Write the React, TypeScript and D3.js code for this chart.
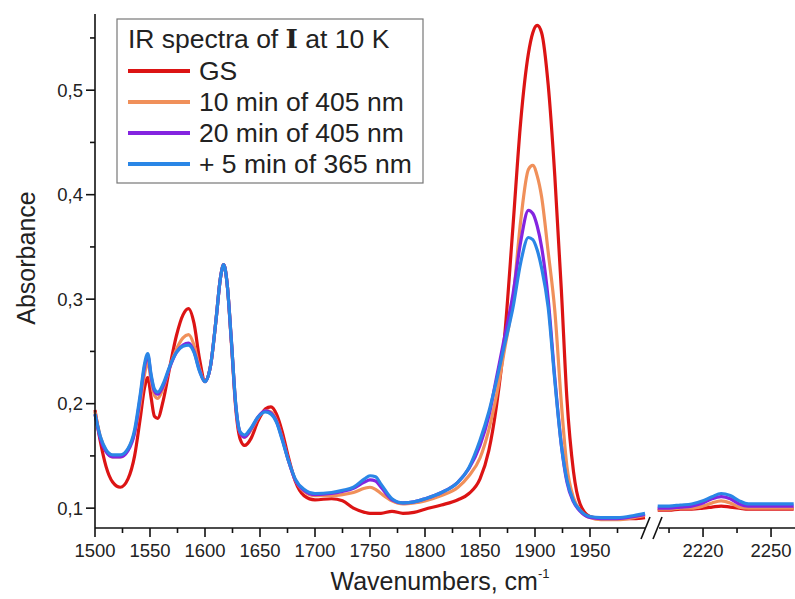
import React from "react";
import * as d3 from "d3";

const gridLeft = [1500, 1505, 1510, 1516, 1523, 1530, 1536, 1541, 1545, 1548, 1551, 1554, 1557, 1562, 1568, 1574, 1580, 1585, 1590, 1595, 1600, 1605, 1610, 1614, 1617, 1620, 1624, 1628, 1632, 1636, 1642, 1648, 1655, 1660, 1665, 1670, 1676, 1682, 1690, 1700, 1715, 1725, 1735, 1745, 1750, 1755, 1760, 1770, 1780, 1790, 1800, 1815, 1830, 1840, 1850, 1858, 1865, 1872, 1880, 1887, 1894, 1898, 1902, 1906, 1912, 1918, 1924, 1929, 1935, 1941, 1950, 1960, 1975, 1990, 2000];

const gsLeft = [0.194, 0.163, 0.14, 0.125, 0.12, 0.128, 0.15, 0.185, 0.215, 0.225, 0.206, 0.188, 0.186, 0.203, 0.235, 0.265, 0.285, 0.291, 0.277, 0.243, 0.222, 0.236, 0.28, 0.32, 0.333, 0.316, 0.258, 0.195, 0.166, 0.16, 0.167, 0.183, 0.195, 0.197, 0.19, 0.174, 0.148, 0.126, 0.112, 0.108, 0.109, 0.107, 0.1, 0.096, 0.095, 0.095, 0.095, 0.097, 0.095, 0.096, 0.099, 0.103, 0.108, 0.114, 0.128, 0.155, 0.198, 0.26, 0.37, 0.47, 0.535, 0.555, 0.562, 0.555, 0.505, 0.418, 0.308, 0.205, 0.135, 0.104, 0.092, 0.09, 0.09, 0.09, 0.091];

const min10Left = [0.192, 0.168, 0.155, 0.149, 0.149, 0.156, 0.172, 0.2, 0.228, 0.24, 0.222, 0.208, 0.205, 0.215, 0.235, 0.252, 0.263, 0.266, 0.256, 0.234, 0.221, 0.236, 0.28, 0.32, 0.333, 0.316, 0.26, 0.198, 0.172, 0.168, 0.175, 0.186, 0.193, 0.192, 0.184, 0.168, 0.145, 0.127, 0.116, 0.112, 0.112, 0.113, 0.115, 0.119, 0.12, 0.118, 0.114, 0.107, 0.104, 0.105, 0.107, 0.112, 0.12, 0.131, 0.148, 0.175, 0.208, 0.25, 0.3, 0.375, 0.424, 0.428, 0.418, 0.398, 0.345, 0.289, 0.2, 0.14, 0.11, 0.098, 0.091, 0.089, 0.089, 0.091, 0.093];

const min20Left = [0.19, 0.166, 0.154, 0.149, 0.149, 0.155, 0.172, 0.205, 0.235, 0.246, 0.226, 0.212, 0.209, 0.217, 0.235, 0.249, 0.256, 0.258, 0.25, 0.232, 0.221, 0.236, 0.28, 0.32, 0.333, 0.316, 0.26, 0.198, 0.172, 0.168, 0.176, 0.187, 0.193, 0.191, 0.183, 0.167, 0.145, 0.127, 0.117, 0.113, 0.114, 0.116, 0.119, 0.125, 0.127, 0.126, 0.12, 0.108, 0.105, 0.106, 0.109, 0.115, 0.125, 0.138, 0.16, 0.188, 0.225, 0.262, 0.305, 0.355, 0.385, 0.382, 0.37, 0.35, 0.3, 0.225, 0.16, 0.125, 0.106, 0.097, 0.091, 0.09, 0.09, 0.092, 0.094];

const uvLeft = [0.19, 0.168, 0.156, 0.151, 0.151, 0.157, 0.175, 0.208, 0.238, 0.248, 0.228, 0.214, 0.211, 0.219, 0.236, 0.249, 0.255, 0.256, 0.249, 0.231, 0.221, 0.236, 0.28, 0.32, 0.333, 0.316, 0.26, 0.199, 0.173, 0.17, 0.177, 0.187, 0.192, 0.19, 0.182, 0.166, 0.145, 0.128, 0.118, 0.114, 0.115, 0.117, 0.12, 0.128, 0.131, 0.13, 0.123, 0.109, 0.105, 0.106, 0.109, 0.115, 0.125, 0.139, 0.165, 0.192, 0.222, 0.255, 0.292, 0.335, 0.359, 0.357, 0.347, 0.33, 0.292, 0.222, 0.16, 0.127, 0.107, 0.098, 0.092, 0.091, 0.091, 0.093, 0.095];

const gridRight = [2200, 2205, 2210, 2215, 2220, 2224, 2228, 2232, 2236, 2240, 2245, 2250, 2255, 2260];
const gsRight = [0.098, 0.098, 0.099, 0.099, 0.1, 0.101, 0.102, 0.101, 0.1, 0.099, 0.099, 0.099, 0.099, 0.099];
const min10Right = [0.099, 0.099, 0.1, 0.1, 0.102, 0.105, 0.107, 0.105, 0.101, 0.1, 0.1, 0.1, 0.1, 0.1];
const min20Right = [0.1, 0.1, 0.101, 0.102, 0.105, 0.109, 0.111, 0.109, 0.104, 0.102, 0.102, 0.102, 0.102, 0.102];
const uvRight = [0.102, 0.102, 0.103, 0.104, 0.107, 0.111, 0.114, 0.112, 0.107, 0.104, 0.104, 0.104, 0.104, 0.104];

const seriesNames = ["GS", "10 min of 405 nm", "20 min of 405 nm", "+ 5 min of 365 nm"];
const seriesColors = ["#dc1414", "#f0905a", "#8424e0", "#2a86e6"];
const leftValues = [gsLeft, min10Left, min20Left, uvLeft];
const rightValues = [gsRight, min10Right, min20Right, uvRight];

const xMajorLeft = [1500, 1550, 1600, 1650, 1700, 1750, 1800, 1850, 1900, 1950];
const xMinorLeft = [1525, 1575, 1625, 1675, 1725, 1775, 1825, 1875, 1925, 1975];
const xMajorRight = [2220, 2250];
const xMinorRight = [2205, 2235];
const yMajor = [0.1, 0.2, 0.3, 0.4, 0.5];
const yMinor = [0.15, 0.25, 0.35, 0.45, 0.55];
const yTickLabels = ["0,1", "0,2", "0,3", "0,4", "0,5"];

export default function App() {
  const W = 795, H = 599;
  const axisY = 528;
  const xl = d3.scaleLinear().domain([1500, 2000]).range([95, 645]);
  const xr = d3.scaleLinear().domain([2200, 2260]).range([657.7, 793.7]);
  const y = d3.scaleLinear().domain([0.081, 0.571]).range([528, 16]);
  const font = "Liberation Sans, Arial, sans-serif";

  const lineL = d3.line<number>().x((_, i) => xl(gridLeft[i])).y((d) => y(d)).curve(d3.curveMonotoneX);
  const lineR = d3.line<number>().x((_, i) => xr(gridRight[i])).y((d) => y(d)).curve(d3.curveMonotoneX);

  return (
    <svg width={W} height={H} style={{ position: "absolute", left: 0, top: 0, background: "#fff" }}>
      <rect x={0} y={0} width={W} height={H} fill="#fff" />
      {leftValues.map((vals, k) => (
        <path key={"l" + k} d={lineL(vals) || ""} fill="none" stroke={seriesColors[k]} strokeWidth={3.2} strokeLinejoin="round" />
      ))}
      {rightValues.map((vals, k) => (
        <path key={"r" + k} d={lineR(vals) || ""} fill="none" stroke={seriesColors[k]} strokeWidth={3.2} strokeLinejoin="round" />
      ))}
      <g stroke="#111" strokeWidth={1.6}>
        <line x1={95} x2={95} y1={14} y2={axisY} />
        <line x1={95} x2={645} y1={axisY} y2={axisY} />
        <line x1={659} x2={795} y1={axisY} y2={axisY} />
        <line x1={641} y1={539} x2={650} y2={517} />
        <line x1={653} y1={539} x2={662} y2={517} />
        {xMajorLeft.map((t) => <line key={"xm" + t} x1={xl(t)} x2={xl(t)} y1={axisY} y2={axisY + 9} />)}
        {xMinorLeft.map((t) => <line key={"xn" + t} x1={xl(t)} x2={xl(t)} y1={axisY} y2={axisY + 5} />)}
        {xMajorRight.map((t) => <line key={"rm" + t} x1={xr(t)} x2={xr(t)} y1={axisY} y2={axisY + 9} />)}
        {xMinorRight.map((t) => <line key={"rn" + t} x1={xr(t)} x2={xr(t)} y1={axisY} y2={axisY + 5} />)}
        {yMajor.map((t) => <line key={"ym" + t} x1={86} x2={95} y1={y(t)} y2={y(t)} />)}
        {yMinor.map((t) => <line key={"yn" + t} x1={90} x2={95} y1={y(t)} y2={y(t)} />)}
      </g>
      <g fontFamily={font} fontSize={18.5} fill="#222">
        {xMajorLeft.map((t) => <text key={"xt" + t} x={xl(t)} y={557} textAnchor="middle">{t}</text>)}
        {xMajorRight.map((t) => <text key={"rt" + t} x={xr(t)} y={557} textAnchor="middle">{t}</text>)}
        {yMajor.map((t, i) => <text key={"yt" + t} x={83} y={y(t) + 6.5} textAnchor="end">{yTickLabels[i]}</text>)}
      </g>
      <text x={440} y={590} fontFamily={font} fontSize={25} fill="#222" textAnchor="middle">
        Wavenumbers, cm<tspan fontSize={13} dy={-12}>-1</tspan>
      </text>
      <text transform={`translate(35,258) rotate(-90)`} fontFamily={font} fontSize={25} fill="#222" textAnchor="middle">Absorbance</text>
      <rect x={117} y={19} width={306} height={164} fill="#fff" stroke="#777" strokeWidth={1.2} />
      <text x={128} y={48} fontFamily={font} fontSize={26.5} fill="#222">
        IR spectra of <tspan fontFamily="DejaVu Serif, serif" fontWeight="bold">I</tspan> at 10 K
      </text>
      {seriesNames.map((n, i) => (
        <g key={n}>
          <line x1={128} x2={190} y1={71 + i * 31} y2={71 + i * 31} stroke={seriesColors[i]} strokeWidth={4} />
          <text x={199} y={80 + i * 31} fontFamily={font} fontSize={26.5} fill="#222">{n}</text>
        </g>
      ))}
    </svg>
  );
}
